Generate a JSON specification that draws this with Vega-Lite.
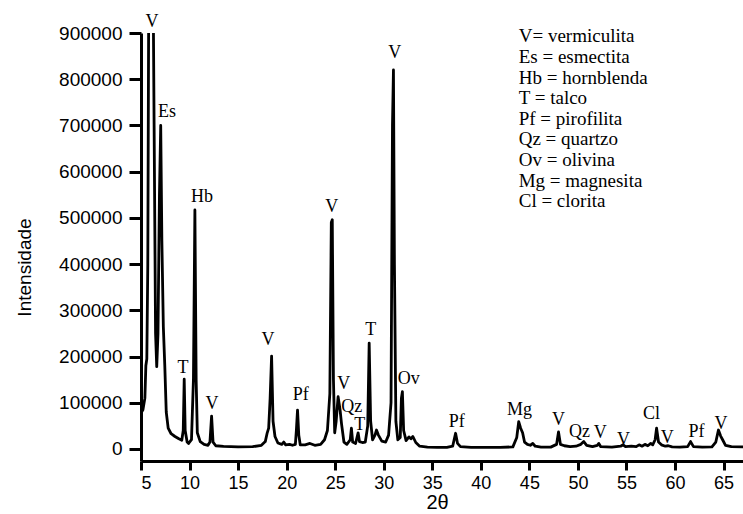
{
  "$schema": "https://vega.github.io/schema/vega-lite/v6.json",
  "width": 602,
  "height": 428,
  "autosize": {"type": "none"},
  "padding": {"left": 141, "top": 33, "right": 0, "bottom": 53},
  "background": "white",
  "config": {"view": {"stroke": null}},
  "datasets": {
    "xrd": [
      {"t": 5.0, "i": 78000}, {"t": 5.2, "i": 85000}, {"t": 5.4, "i": 110000}, {"t": 5.5, "i": 180000},
      {"t": 5.6, "i": 195000}, {"t": 5.7, "i": 400000}, {"t": 5.8, "i": 1000000}, {"t": 5.9, "i": 1200000},
      {"t": 6.0, "i": 950000}, {"t": 6.1, "i": 1000000}, {"t": 6.2, "i": 1150000}, {"t": 6.35, "i": 700000},
      {"t": 6.5, "i": 250000}, {"t": 6.62, "i": 178000}, {"t": 6.75, "i": 250000}, {"t": 6.9, "i": 550000},
      {"t": 7.03, "i": 700000}, {"t": 7.15, "i": 450000}, {"t": 7.3, "i": 265000}, {"t": 7.45, "i": 180000},
      {"t": 7.6, "i": 80000}, {"t": 7.8, "i": 45000}, {"t": 8.1, "i": 33000}, {"t": 8.5, "i": 27000},
      {"t": 8.9, "i": 22000}, {"t": 9.2, "i": 19000}, {"t": 9.35, "i": 40000}, {"t": 9.45, "i": 151000},
      {"t": 9.55, "i": 40000}, {"t": 9.75, "i": 15000}, {"t": 9.9, "i": 12000}, {"t": 10.2, "i": 20000},
      {"t": 10.4, "i": 150000}, {"t": 10.55, "i": 517000}, {"t": 10.68, "i": 150000}, {"t": 10.8, "i": 35000},
      {"t": 11.1, "i": 16000}, {"t": 11.5, "i": 10000}, {"t": 11.9, "i": 8000}, {"t": 12.1, "i": 15000},
      {"t": 12.27, "i": 71000}, {"t": 12.42, "i": 15000}, {"t": 12.7, "i": 7000}, {"t": 13.5, "i": 5500},
      {"t": 15.0, "i": 4500}, {"t": 16.5, "i": 5000}, {"t": 17.4, "i": 8000}, {"t": 17.8, "i": 16000},
      {"t": 18.0, "i": 35000}, {"t": 18.15, "i": 45000}, {"t": 18.3, "i": 110000}, {"t": 18.45, "i": 201000},
      {"t": 18.6, "i": 60000}, {"t": 18.8, "i": 27000}, {"t": 19.1, "i": 13000}, {"t": 19.5, "i": 10000},
      {"t": 19.7, "i": 15000}, {"t": 19.9, "i": 9000}, {"t": 20.3, "i": 10000}, {"t": 20.6, "i": 8000},
      {"t": 20.9, "i": 10000}, {"t": 21.0, "i": 40000}, {"t": 21.12, "i": 84000}, {"t": 21.25, "i": 30000},
      {"t": 21.4, "i": 9000}, {"t": 21.9, "i": 9000}, {"t": 22.4, "i": 12000}, {"t": 22.9, "i": 8000},
      {"t": 23.5, "i": 10000}, {"t": 23.9, "i": 20000}, {"t": 24.2, "i": 40000}, {"t": 24.45, "i": 120000},
      {"t": 24.6, "i": 490000}, {"t": 24.7, "i": 496000}, {"t": 24.82, "i": 150000}, {"t": 24.95, "i": 35000},
      {"t": 25.1, "i": 60000}, {"t": 25.3, "i": 113000}, {"t": 25.5, "i": 85000}, {"t": 25.65, "i": 55000},
      {"t": 25.9, "i": 15000}, {"t": 26.2, "i": 10000}, {"t": 26.55, "i": 20000}, {"t": 26.67, "i": 45000},
      {"t": 26.8, "i": 15000}, {"t": 27.1, "i": 12000}, {"t": 27.25, "i": 25000}, {"t": 27.36, "i": 35000},
      {"t": 27.5, "i": 16000}, {"t": 27.8, "i": 14000}, {"t": 28.1, "i": 15000}, {"t": 28.35, "i": 50000},
      {"t": 28.5, "i": 229000}, {"t": 28.65, "i": 60000}, {"t": 28.85, "i": 20000}, {"t": 29.1, "i": 30000},
      {"t": 29.25, "i": 41000}, {"t": 29.45, "i": 30000}, {"t": 29.8, "i": 17000}, {"t": 30.2, "i": 15000},
      {"t": 30.5, "i": 30000}, {"t": 30.75, "i": 100000}, {"t": 30.9, "i": 700000}, {"t": 31.0, "i": 820000},
      {"t": 31.1, "i": 400000}, {"t": 31.25, "i": 60000}, {"t": 31.45, "i": 20000}, {"t": 31.7, "i": 25000},
      {"t": 31.82, "i": 110000}, {"t": 31.92, "i": 124000}, {"t": 32.05, "i": 40000}, {"t": 32.3, "i": 18000},
      {"t": 32.6, "i": 26000}, {"t": 32.8, "i": 22000}, {"t": 33.0, "i": 27000}, {"t": 33.3, "i": 14000},
      {"t": 33.7, "i": 6000}, {"t": 34.5, "i": 4000}, {"t": 35.5, "i": 3500}, {"t": 36.5, "i": 3500},
      {"t": 37.1, "i": 6000}, {"t": 37.3, "i": 25000}, {"t": 37.4, "i": 34000}, {"t": 37.6, "i": 12000},
      {"t": 37.9, "i": 5000}, {"t": 39.0, "i": 3500}, {"t": 40.5, "i": 3500}, {"t": 42.0, "i": 3500},
      {"t": 43.3, "i": 4500}, {"t": 43.7, "i": 25000}, {"t": 43.9, "i": 59000}, {"t": 44.1, "i": 45000},
      {"t": 44.3, "i": 35000}, {"t": 44.5, "i": 15000}, {"t": 44.8, "i": 10000}, {"t": 45.1, "i": 8000},
      {"t": 45.35, "i": 12000}, {"t": 45.6, "i": 6000}, {"t": 46.2, "i": 4000}, {"t": 47.2, "i": 4000},
      {"t": 47.8, "i": 10000}, {"t": 48.0, "i": 37000}, {"t": 48.2, "i": 10000}, {"t": 48.6, "i": 7000},
      {"t": 49.2, "i": 5000}, {"t": 49.8, "i": 6000}, {"t": 50.3, "i": 10000}, {"t": 50.6, "i": 16000},
      {"t": 50.9, "i": 8000}, {"t": 51.5, "i": 5000}, {"t": 52.0, "i": 8000}, {"t": 52.15, "i": 12000},
      {"t": 52.35, "i": 5000}, {"t": 53.5, "i": 4000}, {"t": 54.4, "i": 6000}, {"t": 54.65, "i": 9000},
      {"t": 54.9, "i": 5000}, {"t": 55.5, "i": 6000}, {"t": 56.0, "i": 5000}, {"t": 56.3, "i": 9000},
      {"t": 56.6, "i": 6000}, {"t": 56.9, "i": 10000}, {"t": 57.2, "i": 7000}, {"t": 57.5, "i": 12000},
      {"t": 57.7, "i": 9000}, {"t": 57.95, "i": 20000}, {"t": 58.1, "i": 45000}, {"t": 58.3, "i": 15000},
      {"t": 58.6, "i": 9000}, {"t": 59.0, "i": 6000}, {"t": 59.3, "i": 7000}, {"t": 59.7, "i": 4500},
      {"t": 60.5, "i": 4000}, {"t": 61.3, "i": 5000}, {"t": 61.6, "i": 16000}, {"t": 61.9, "i": 5000},
      {"t": 62.8, "i": 4000}, {"t": 63.8, "i": 4500}, {"t": 64.2, "i": 15000}, {"t": 64.47, "i": 41000},
      {"t": 64.7, "i": 28000}, {"t": 64.9, "i": 20000}, {"t": 65.2, "i": 8000}, {"t": 65.8, "i": 5000},
      {"t": 67.0, "i": 4500}
    ],
    "labels": [
      {"t": 6.13, "i": 924000, "txt": "V"},
      {"t": 7.67, "i": 729000, "txt": "Es"},
      {"t": 11.28, "i": 545000, "txt": "Hb"},
      {"t": 9.32, "i": 175000, "txt": "T"},
      {"t": 12.3, "i": 97000, "txt": "V"},
      {"t": 18.07, "i": 236000, "txt": "V"},
      {"t": 21.46, "i": 117000, "txt": "Pf"},
      {"t": 24.65, "i": 524000, "txt": "V"},
      {"t": 25.88, "i": 141000, "txt": "V"},
      {"t": 26.71, "i": 91000, "txt": "Qz"},
      {"t": 27.53, "i": 52000, "txt": "T"},
      {"t": 31.13, "i": 857000, "txt": "V"},
      {"t": 28.66, "i": 258000, "txt": "T"},
      {"t": 32.57, "i": 151000, "txt": "Ov"},
      {"t": 37.51, "i": 58000, "txt": "Pf"},
      {"t": 43.99, "i": 84000, "txt": "Mg"},
      {"t": 48.0, "i": 63000, "txt": "V"},
      {"t": 50.16, "i": 37000, "txt": "Qz"},
      {"t": 52.3, "i": 35000, "txt": "V"},
      {"t": 54.7, "i": 19000, "txt": "V"},
      {"t": 57.57, "i": 76000, "txt": "Cl"},
      {"t": 59.2, "i": 24000, "txt": "V"},
      {"t": 62.2, "i": 37000, "txt": "Pf"},
      {"t": 64.74, "i": 55000, "txt": "V"}
    ],
    "legend": [
      {"t": 43.9, "i": 894000, "txt": "V= vermiculita"},
      {"t": 43.9, "i": 848500, "txt": "Es = esmectita"},
      {"t": 43.9, "i": 803000, "txt": "Hb = hornblenda"},
      {"t": 43.9, "i": 760000, "txt": "T = talco"},
      {"t": 43.9, "i": 714000, "txt": "Pf = pirofilita"},
      {"t": 43.9, "i": 671000, "txt": "Qz = quartzo"},
      {"t": 43.9, "i": 626000, "txt": "Ov = olivina"},
      {"t": 43.9, "i": 580000, "txt": "Mg = magnesita"},
      {"t": 43.9, "i": 537000, "txt": "Cl = clorita"}
    ]
  },
  "layer": [
    {
      "data": {"name": "xrd"},
      "mark": {"type": "line", "color": "black", "strokeWidth": 2.8, "clip": true, "strokeJoin": "round"},
      "encoding": {
        "x": {
          "field": "t", "type": "quantitative",
          "scale": {"domain": [5, 67], "nice": false, "zero": false},
          "axis": {
            "title": "2θ",
            "values": [5, 7.5, 10, 12.5, 15, 17.5, 20, 22.5, 25, 27.5, 30, 32.5, 35, 37.5, 40, 42.5, 45, 47.5, 50, 52.5, 55, 57.5, 60, 62.5, 65],
            "labelExpr": "datum.value % 5 == 0 ? format(datum.value, 'd') : ''",
            "labelOverlap": false,
            "labelFont": "Liberation Sans", "labelFontSize": 18, "labelColor": "black", "labelPadding": 4,
            "tickSize": {"condition": {"test": "datum.value % 5 != 0", "value": 5}, "value": 9},
            "tickWidth": 3, "tickColor": "black",
            "domainWidth": 3, "domainColor": "black",
            "grid": false,
            "titleFont": "Liberation Sans", "titleFontSize": 20, "titleFontWeight": "normal", "titleColor": "black",
            "titleX": 296, "titleY": 41, "titleBaseline": "middle", "titleAlign": "center"
          }
        },
        "y": {
          "field": "i", "type": "quantitative",
          "scale": {"domain": [-26000, 900000], "nice": false, "zero": false},
          "axis": {
            "title": "Intensidade",
            "values": [0, 50000, 100000, 150000, 200000, 250000, 300000, 350000, 400000, 450000, 500000, 550000, 600000, 650000, 700000, 750000, 800000, 850000, 900000],
            "labelExpr": "datum.value % 100000 == 0 ? format(datum.value, 'd') : ''",
            "labelOverlap": false,
            "labelFont": "Liberation Sans", "labelFontSize": 19, "labelColor": "black", "labelPadding": 7,
            "tickSize": {"condition": {"test": "datum.value % 100000 != 0", "value": 7}, "value": 12},
            "tickWidth": 3, "tickColor": "black",
            "domainWidth": 3, "domainColor": "black",
            "grid": false,
            "titleFont": "Liberation Sans", "titleFontSize": 19, "titleFontWeight": "normal", "titleColor": "black",
            "titleAngle": -90, "titleX": -117, "titleY": 234, "titleBaseline": "middle", "titleAlign": "center"
          }
        }
      }
    },
    {
      "data": {"name": "labels"},
      "mark": {"type": "text", "font": "Liberation Serif", "fontSize": 18, "color": "black", "baseline": "middle", "align": "center"},
      "encoding": {
        "x": {"field": "t", "type": "quantitative"},
        "y": {"field": "i", "type": "quantitative"},
        "text": {"field": "txt"}
      }
    },
    {
      "data": {"name": "legend"},
      "mark": {"type": "text", "font": "Liberation Serif", "fontSize": 19, "color": "black", "baseline": "middle", "align": "left"},
      "encoding": {
        "x": {"field": "t", "type": "quantitative"},
        "y": {"field": "i", "type": "quantitative"},
        "text": {"field": "txt"}
      }
    }
  ]
}
